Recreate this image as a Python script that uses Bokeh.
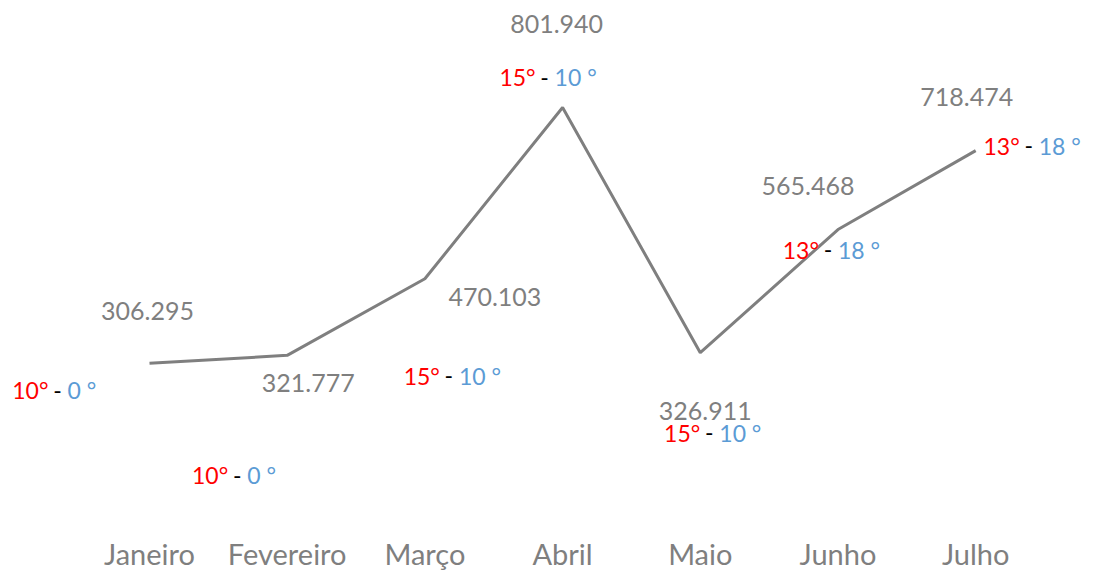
from bokeh.plotting import figure
from bokeh.models import ColumnDataSource, FixedTicker, Range1d
from bokeh.core.properties import value
from bokeh.embed import file_html
from bokeh.resources import INLINE

months = ["Janeiro", "Fevereiro", "Março", "Abril", "Maio", "Junho", "Julho"]
visits = [306295, 321777, 470103, 801940, 326911, 565468, 718474]
temp_max = [10, 10, 15, 15, 15, 13, 13]
temp_min = [0, 0, 10, 10, 10, 18, 18]

# label placement (screen px offsets from each point), style only
val_dx = [-2, 21, 70, -6, 5, -30, -9]
val_dy = [-52, 28, 18, -83, 58, -44, -54]
tmp_dx = [-92, -50, 24, -18, 9, -10, 53]
tmp_dy = [27, 120, 97, -30, 80, 20, -5]

FONT = "Lato"
GRAY = "#7f7f7f"

xs = list(range(len(months)))
src = ColumnDataSource(dict(
    x=xs,
    y=visits,
    vlabel=[f"{v:,}".replace(",", ".") for v in visits],
    red=[f"{t}°" for t in temp_max],
    dash=["-"] * len(months),
    blue=[f"{t} °" for t in temp_min],
    vdx=val_dx, vdy=val_dy,
    rdx=[d - 9 for d in tmp_dx],
    ddx=tmp_dx,
    bdx=[d + 10 for d in tmp_dx],
    tdy=tmp_dy,
))

p = figure(width=1110, height=573, output_backend="svg", toolbar_location=None,
           x_range=Range1d(-1.082, 6.979), y_range=Range1d(19260, 1009224),
           min_border_left=0, min_border_right=0, min_border_top=0, min_border_bottom=59)
p.outline_line_color = None
p.grid.visible = False
p.yaxis.visible = False
p.background_fill_color = "white"
p.border_fill_color = "white"

xa = p.xaxis[0]
xa.ticker = FixedTicker(ticks=xs)
xa.major_label_overrides = {i: m for i, m in enumerate(months)}
xa.axis_line_color = None
xa.major_tick_line_color = None
xa.minor_tick_line_color = None
xa.major_tick_out = 0
xa.major_tick_in = 0
xa.major_label_standoff = 24
xa.major_label_text_font = FONT
xa.major_label_text_font_size = "29px"
xa.major_label_text_color = GRAY

p.line("x", "y", source=src, line_color="#7f7f7f", line_width=3)

p.text("x", "y", text="vlabel", source=src, x_offset="vdx", y_offset="vdy",
       text_align="center", text_baseline="middle", text_font=value(FONT),
       text_font_size="25px", text_color=GRAY)
p.text("x", "y", text="red", source=src, x_offset="rdx", y_offset="tdy",
       text_align="right", text_baseline="middle", text_font=value(FONT),
       text_font_size="23px", text_color="#ff0000")
p.text("x", "y", text="dash", source=src, x_offset="ddx", y_offset="tdy",
       text_align="center", text_baseline="middle", text_font=value(FONT),
       text_font_size="23px", text_color="#000000")
p.text("x", "y", text="blue", source=src, x_offset="bdx", y_offset="tdy",
       text_align="left", text_baseline="middle", text_font=value(FONT),
       text_font_size="23px", text_color="#5b9bd5")

open("out.html", "w").write(file_html(p, INLINE))
